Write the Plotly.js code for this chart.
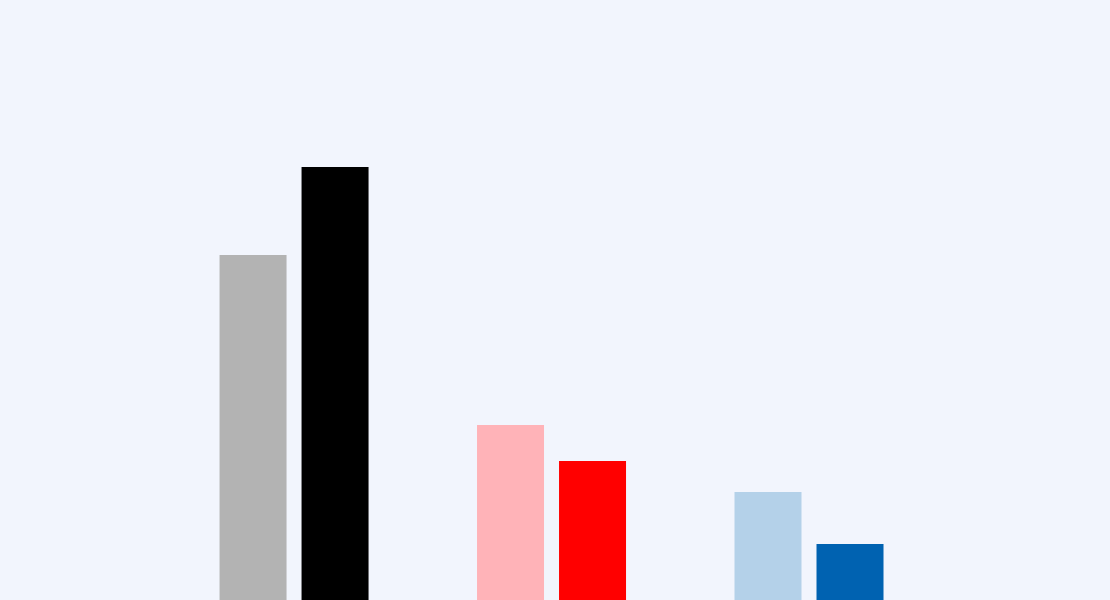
<!DOCTYPE html>
<html>
<head>
<meta charset="utf-8">
<script src="https://cdn.plot.ly/plotly-3.0.1.min.js"></script>
<style>
  html, body { margin: 0; padding: 0; background: #f2f5fd; }
  #chart { width: 1110px; height: 600px; }
</style>
</head>
<body>
<div id="chart"></div>
<script>
// three groups, two bars each (lighter = first series, darker = second)
var groups = ['A', 'B', 'C'];
var firstValues = [345, 175, 108];
var secondValues = [433, 139, 56];
var firstColors = ['#b3b3b3', '#ffb3b8', '#b4d1e9'];
var secondColors = ['#000000', '#ff0000', '#0062b1'];

function initChart()
{
    var traces = [{
        type: 'bar',
        x: groups,
        y: firstValues,
        marker: {color: firstColors},
        hoverinfo: 'none'
    }, {
        type: 'bar',
        x: groups,
        y: secondValues,
        marker: {color: secondColors},
        hoverinfo: 'none'
    }];

    var layout = {
        width: 1110,
        height: 600,
        margin: {l: 0, r: 0, t: 0, b: 0, pad: 0},
        paper_bgcolor: '#f2f5fd',
        plot_bgcolor: '#f2f5fd',
        showlegend: false,
        barmode: 'group',
        bargap: 0.363,
        bargroupgap: 0.183,
        xaxis: {
            range: [-1.142, 3.169],
            visible: false,
            fixedrange: true
        },
        yaxis: {
            range: [0, 600],
            visible: false,
            fixedrange: true
        }
    };

    Plotly.newPlot('chart', traces, layout, {staticPlot: true, displayModeBar: false});
}

initChart();
</script>
</body>
</html>
